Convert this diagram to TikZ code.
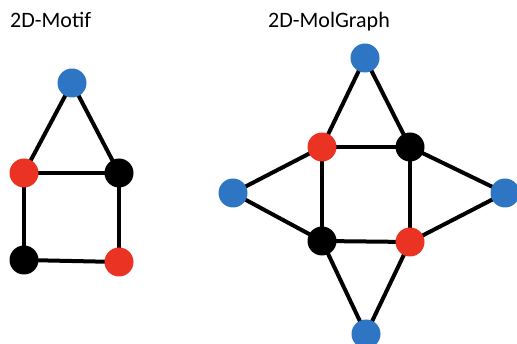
\documentclass[tikz,border=0pt]{standalone}
\usepackage{fontspec}
\setmainfont{Carlito}
\usetikzlibrary{backgrounds}
\definecolor{atomblue}{HTML}{2E75C4}
\definecolor{atomred}{HTML}{EA3323}
\tikzset{
	atom/.style={circle,minimum size=29pt,inner sep=0pt},
	ablue/.style={atom,fill=atomblue},
	ared/.style={atom,fill=atomred},
	ablack/.style={atom,fill=black},
	bond/.style={line width=4pt},
	title/.style={anchor=base west,inner sep=0pt,font=\fontsize{22}{26}\selectfont}
}
\begin{document}
\begin{tikzpicture}[x=1pt,y=-1pt]
	\useasboundingbox (0,0) rectangle (517,344);
	\node[title] (motif) at (10,27.7) {2D-Motif};
	\node[title] (molgraph) at (268,27.7) {2D-MolGraph};
	\node[ablue] (m1) at (72,83) {};
	\node[ared] (m2) at (24,173) {};
	\node[ablack] (m3) at (119,173) {};
	\node[ablack] (m4) at (24,260) {};
	\node[ared] (m5) at (119,262) {};
	\node[ablue] (g1) at (365,58) {};
	\node[ared] (g2) at (322,147) {};
	\node[ablack] (g3) at (410,147) {};
	\node[ablue] (g4) at (233,193) {};
	\node[ablue] (g5) at (505,193) {};
	\node[ablack] (g6) at (322,241) {};
	\node[ared] (g7) at (410,242) {};
	\node[ablue] (g8) at (366,334) {};
	\begin{scope}[on background layer]
		\foreach \a/\b in {m1/m2,m1/m3,m2/m3,m2/m4,m3/m5,m4/m5}
			\draw[bond] (\a.center) -- (\b.center);
		\foreach \a/\b in {g1/g2,g1/g3,g2/g3,g2/g4,g2/g6,g3/g5,g3/g7,g4/g6,g5/g7,g6/g7,g6/g8,g7/g8}
			\draw[bond] (\a.center) -- (\b.center);
	\end{scope}
\end{tikzpicture}
\end{document}
